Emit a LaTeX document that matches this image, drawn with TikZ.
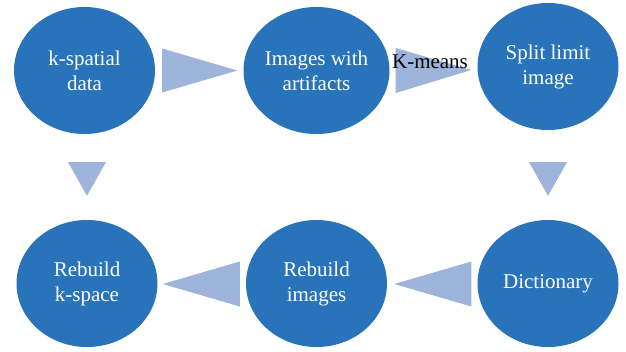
\documentclass[tikz,border=0pt]{standalone}
\usepackage{fontspec}
\setmainfont{Liberation Serif}
\usetikzlibrary{shapes.geometric,calc}
\definecolor{cblue}{RGB}{40,115,186}
\definecolor{tblue}{RGB}{158,180,218}
\tikzset{
  stage/.style={ellipse, fill=cblue, draw=none, minimum width=141pt, minimum height=127pt, inner sep=0pt,
    text=white, align=center, font=\fontsize{21}{25}\selectfont},
  arrowtri/.style={fill=tblue, draw=none},
  lbl/.style={text=black, font=\fontsize{21}{25}\selectfont, inner sep=0pt}
}
\begin{document}
\begin{tikzpicture}[x=1pt,y=-1pt]
\useasboundingbox (0,0) rectangle (626,351);
\node[stage] (a) at (84.5,70.5) {k-spatial\\data};
\node[stage] (b) at (316.5,70.5) {Images with\\artifacts};
\node[stage] (c) at (548,66.5) {Split limit\\image};
\node[stage] (d) at (87,283.5) {Rebuild\\k-space};
\node[stage] (e) at (316.5,283.5) {Rebuild\\images};
\node[stage] (f) at (548,283.5) {Dictionary};
% right-pointing arrows
\fill[arrowtri] ($(a.east)+(7,-22)$) -- ($(a.east)+(7,22)$) -- ($(b.west)+(-6,0)$) -- cycle;
\fill[arrowtri] ($(b.east)+(6,-22.5)$) -- ($(b.east)+(6,22.5)$) -- ($(c.west)+(-6,3.5)$) -- cycle;
% down arrows
\fill[arrowtri] ($(a.south)+(-16.5,28)$) -- ($(a.south)+(21.5,28)$) -- ($(d.north)+(0,-24)$) -- cycle;
\fill[arrowtri] ($(c.south)+(-19,32)$) -- ($(c.south)+(19,32)$) -- ($(f.north)+(0,-24)$) -- cycle;
% left-pointing arrows
\fill[arrowtri] ($(e.west)+(-6,-22)$) -- ($(e.west)+(-6,23)$) -- ($(d.east)+(5,0.5)$) -- cycle;
\fill[arrowtri] ($(f.west)+(-6,-22)$) -- ($(f.west)+(-6,23)$) -- ($(e.east)+(7,0.5)$) -- cycle;
\node[lbl] (km) at (430,62) {K-means};
\end{tikzpicture}
\end{document}
